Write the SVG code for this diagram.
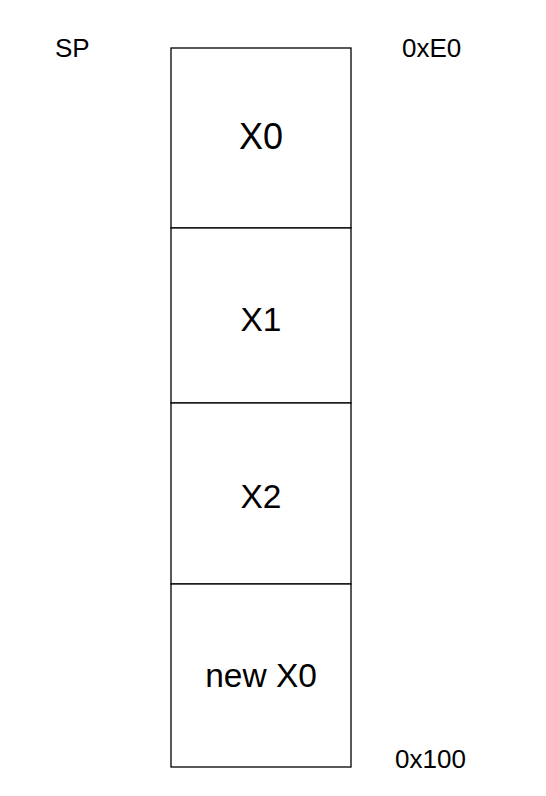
<svg xmlns="http://www.w3.org/2000/svg" width="546" height="796" viewBox="0 0 546 796">
<style>
.cell{fill:#fff;stroke:#000;stroke-width:1.3}
.big{font-family:"Liberation Sans",Arial,sans-serif;font-size:36px;text-anchor:middle;fill:#000}
.mid{font-family:"Liberation Sans",Arial,sans-serif;font-size:33.5px;text-anchor:middle;fill:#000}
.lbl{font-family:"Liberation Sans",Arial,sans-serif;font-size:26px;fill:#000}
</style>
<rect width="546" height="796" fill="#fff"/>
<g id="x0"><rect class="cell" x="171" y="48" width="180" height="180"/><text class="big" x="261" y="149">X0</text></g>
<g id="x1"><rect class="cell" x="171" y="228" width="180" height="175"/><text class="mid" x="261" y="331">X1</text></g>
<g id="x2"><rect class="cell" x="171" y="403" width="180" height="181"/><text class="mid" x="261" y="508">X2</text></g>
<g id="newx0"><rect class="cell" x="171" y="584" width="180" height="183"/><text class="mid" x="261" y="687">new X0</text></g>
<g id="labels">
<text class="lbl" x="55" y="57">SP</text>
<text class="lbl" x="402" y="57">0xE0</text>
<text class="lbl" x="395" y="768">0x100</text>
</g>
<g id="connectors"/>
</svg>
